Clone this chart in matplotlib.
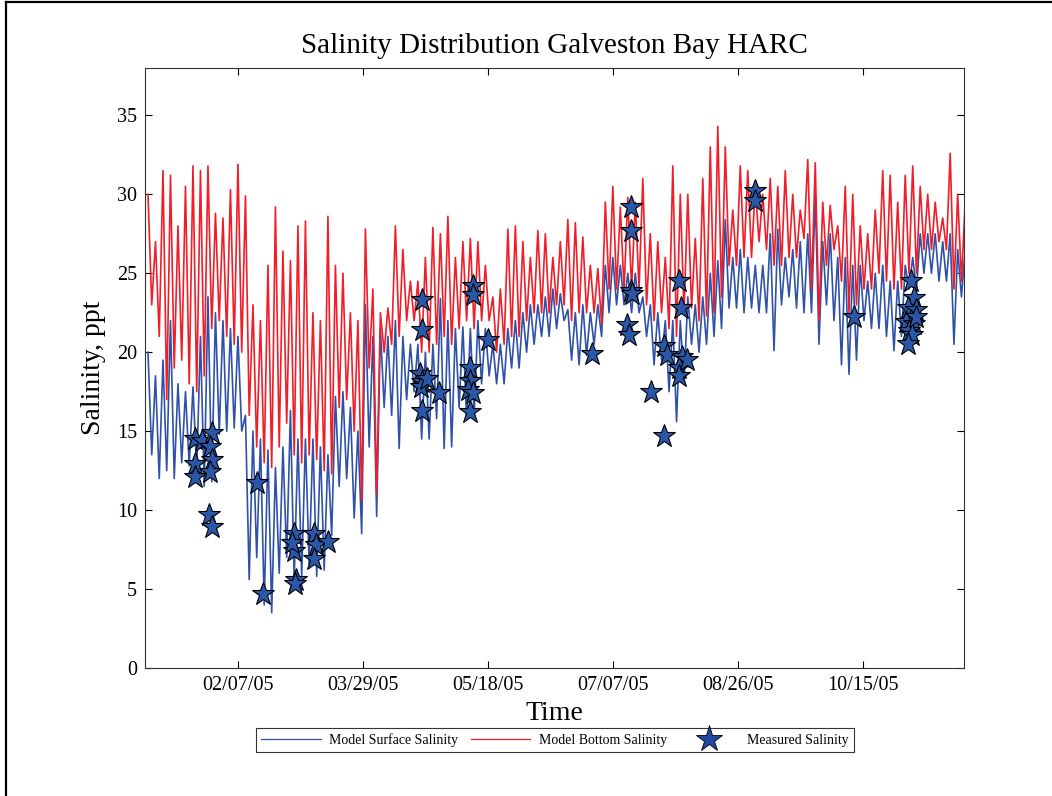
import matplotlib
matplotlib.use("Agg")
import matplotlib.pyplot as plt
import matplotlib.dates as mdates
from matplotlib.lines import Line2D
import numpy as np
import pandas as pd

plt.rcParams["font.family"] = ["Liberation Serif", "DejaVu Serif"]

# model output: tidal peak / trough every 3 days (day offset from 2005-01-01)
model_day = list(range(1, 329, 3))

bottom_hi = [30.0, 27.0, 31.5, 31.2, 28.0, 30.5, 31.8, 31.5, 31.8, 28.8,
             28.5, 30.3, 31.9, 29.9, 23.0, 22.0, 25.5, 29.2, 26.4, 25.8,
             28.0, 28.3, 22.5, 22.0, 28.6, 25.5, 25.0, 22.5, 22.0, 27.8,
             24.0, 22.5, 22.8, 28.0, 26.5, 24.5, 24.5, 26.0, 27.9, 27.5,
             28.6, 26.0, 27.0, 27.2, 27.0, 25.5, 23.5, 24.0, 27.8, 28.0,
             27.0, 26.0, 27.7, 27.5, 26.0, 27.0, 28.4, 28.2, 27.3, 25.5,
             25.3, 29.5, 30.5, 29.2, 29.8, 29.5, 31.0, 27.5, 27.0, 26.0,
             31.8, 30.0, 30.0, 27.2, 31.0, 33.0, 34.3, 33.0, 29.0, 31.8,
             31.5, 30.5, 30.0, 31.0, 30.5, 31.5, 30.0, 29.0, 32.2, 32.0,
             29.5, 29.3, 28.0, 30.5, 30.0, 28.0, 27.5, 29.0, 31.5, 31.2,
             29.5, 31.2, 31.8, 30.5, 30.0, 29.5, 28.5, 32.6, 30.0, 29.5]

bottom_lo = [23.0, 21.0, 17.0, 19.0, 19.5, 18.0, 17.5, 18.5, 21.5, 22.0,
             21.0, 20.5, 20.0, 16.0, 14.0, 13.0, 12.7, 14.0, 15.5, 13.5,
             13.0, 13.5, 13.2, 12.5, 12.3, 16.5, 17.0, 15.0, 10.6, 19.0,
             11.0, 20.0, 20.5, 21.0, 22.0, 22.0, 20.0, 20.0, 20.5, 21.0,
             20.5, 21.5, 22.0, 21.5, 22.0, 22.0, 20.0, 20.5, 21.0, 21.0,
             22.0, 22.5, 22.5, 22.5, 23.0, 23.0, 22.0, 22.5, 22.5, 22.5,
             21.8, 24.0, 24.0, 24.0, 24.0, 24.0, 23.0, 22.0, 22.5, 21.5,
             21.0, 22.5, 22.8, 22.0, 22.3, 22.5, 23.5, 25.5, 25.5, 26.0,
             26.0, 27.0, 26.5, 25.5, 25.5, 26.0, 26.0, 27.2, 24.0, 22.0,
             25.5, 26.5, 24.5, 22.5, 23.0, 24.0, 24.0, 25.0, 24.5, 24.0,
             24.0, 25.0, 25.0, 26.5, 26.5, 27.0, 26.5, 24.0, 24.5, 25.5]

surface_hi = [20.0, 18.5, 19.5, 22.0, 18.0, 17.5, 17.8, 21.0, 23.5, 22.5,
              22.0, 21.5, 21.0, 16.0, 15.0, 14.5, 13.8, 12.7, 14.0, 16.3,
              14.5, 14.5, 14.5, 14.0, 13.5, 17.2, 17.5, 16.5, 15.0, 23.0,
              21.0, 21.5, 21.0, 22.0, 21.0, 20.5, 20.5, 20.0, 20.5, 23.4,
              22.0, 21.5, 21.6, 21.5, 22.0, 21.5, 20.5, 20.5, 21.5, 22.0,
              22.5, 23.0, 23.0, 23.5, 24.0, 23.7, 22.7, 22.5, 23.0, 22.5,
              23.0, 25.5, 26.0, 25.5, 25.0, 25.0, 23.5, 23.0, 22.5, 22.0,
              22.0, 22.0, 23.5, 23.0, 23.5, 25.0, 25.8, 28.4, 26.0, 26.5,
              26.0, 25.5, 25.5, 27.5, 27.8, 26.0, 26.5, 27.0, 27.5, 30.0,
              27.0, 27.5, 26.0, 26.0, 25.5, 25.5, 24.5, 25.0, 25.5, 24.5,
              24.5, 25.5, 26.0, 27.5, 27.5, 27.5, 27.0, 27.5, 26.5, 26.5]

surface_lo = [13.5, 12.0, 12.5, 12.0, 13.0, 12.8, 12.5, 11.5, 11.8, 14.8,
              15.0, 15.2, 15.0, 5.6, 7.0, 4.0, 3.5, 6.0, 7.0, 5.6,
              5.8, 6.5, 5.8, 6.2, 8.4, 11.5, 12.0, 9.5, 8.5, 14.0,
              9.6, 16.5, 16.0, 13.9, 17.0, 17.5, 14.5, 14.5, 15.8, 13.9,
              14.0, 16.5, 15.8, 16.0, 18.0, 18.5, 18.0, 18.0, 19.0, 19.0,
              20.0, 20.5, 21.0, 21.0, 21.5, 22.0, 19.5, 19.2, 19.8, 20.5,
              21.0, 22.5, 23.0, 23.0, 22.5, 22.5, 21.0, 19.2, 19.5, 17.5,
              15.6, 18.0, 20.5, 20.0, 20.5, 21.0, 21.5, 22.8, 22.8, 22.5,
              22.8, 22.5, 22.5, 20.1, 23.0, 23.5, 22.8, 22.5, 22.5, 20.5,
              23.0, 22.0, 19.2, 18.6, 19.5, 22.0, 21.5, 21.5, 21.0, 20.1,
              21.0, 24.0, 24.0, 25.0, 25.0, 24.5, 24.5, 20.5, 23.5, 24.0]

# field measurements (day offset from 2005-01-01, ppt)
meas_day = [19.9, 22.6, 26.6, 25.9, 26.6, 19.9, 25.9, 19.9, 25.3, 26.6,
            44.6, 47.0,
            59.5, 59.5, 60.2, 60.0, 58.8, 67.5, 68.2, 67.5, 72.9,
            110.6, 110.6, 109.9, 110.6, 110.3, 117.4, 110.6, 112.5,
            131.1, 131.1, 137.1, 129.8, 129.8, 129.1, 131.1, 129.8,
            178.7, 194.1, 194.1, 194.1, 194.6, 192.7, 193.4, 202.1, 207.4,
            207.4, 208.7, 213.4, 214.1, 214.7, 213.4, 213.4, 216.6,
            243.7, 243.7, 283.7,
            306.3, 307.7, 305.0, 308.3, 306.3, 304.3, 307.7, 305.7, 306.9, 305.0, 308.5]
meas_sal = [14.5, 14.4, 14.9, 14.0, 13.2, 12.9, 12.4, 12.1, 9.7, 8.9,
            11.7, 4.7,
            8.5, 7.4, 5.6, 5.3, 7.9, 8.5, 7.8, 6.9, 8.0,
            23.3, 21.4, 18.6, 18.1, 17.8, 17.4, 16.3, 18.3,
            24.2, 23.6, 20.8, 19.0, 18.2, 17.6, 17.4, 16.2,
            19.9, 29.2, 27.7, 23.9, 23.7, 21.7, 21.1, 17.5, 14.7,
            20.4, 19.8, 24.5, 22.8, 19.7, 19.0, 18.5, 19.5,
            30.2, 29.6, 22.2,
            24.5, 23.45, 22.8, 22.7, 22.0, 21.9, 21.8, 21.35, 21.1, 20.5, 22.2]

tick_dates = ["2005-02-07", "2005-03-29", "2005-05-18", "2005-07-07", "2005-08-26", "2005-10-15"]

BLUE = "#2f52a8"
RED = "#f01e28"
STAR = "#2a57a8"

start = pd.Timestamp("2005-01-01")


def to_dates(days):
    return start + pd.to_timedelta(np.asarray(days, dtype=float), unit="D")


def zigzag(days, hi, lo):
    days = np.asarray(days, dtype=float)
    t = np.column_stack((days, days + 1.5)).ravel()
    v = np.column_stack((hi, lo)).ravel()
    return to_dates(t), v


fig = plt.figure(figsize=(10.52, 7.96), dpi=100)
ax = fig.add_axes([0.1383, 0.1608, 0.7780, 0.7538])

t_s, v_s = zigzag(model_day, surface_hi, surface_lo)
t_b, v_b = zigzag(model_day, bottom_hi, bottom_lo)
ax.plot(t_s, v_s, color=BLUE, lw=1.2)
ax.plot(t_b, v_b, color=RED, lw=1.2)
ax.plot(to_dates(meas_day), meas_sal, ls="none", marker="*", ms=17,
        mfc=STAR, mec="black", mew=0.8)

ax.set_xlim(pd.Timestamp("2005-01-01"), pd.Timestamp("2005-11-24 12:00"))
ax.set_ylim(0, 38)
ax.set_yticks(range(0, 36, 5))
ax.set_xticks(pd.to_datetime(tick_dates))
ax.xaxis.set_major_formatter(mdates.DateFormatter("%m/%d/%y"))
ax.tick_params(direction="in", top=True, right=True, length=5, width=0.8,
               labelsize=14.5, pad=6)
for s in ax.spines.values():
    s.set_linewidth(0.8)
    s.set_color("#333333")

ax.set_title("Salinity Distribution Galveston Bay HARC", fontsize=21, pad=11)
ax.set_xlabel("Time", fontsize=20, labelpad=4)
ax.set_ylabel("Salinity, ppt", fontsize=20, labelpad=8)

handles = [Line2D([], [], color=BLUE, lw=0.9),
           Line2D([], [], color=RED, lw=0.9),
           Line2D([], [], ls="none", marker="*", ms=20, mfc="#1f4aa0", mec="black", mew=0.6)]
labels = ["Model Surface Salinity", "Model Bottom Salinity", "Measured Salinity"]
leg = fig.legend(handles, labels, loc="center", bbox_to_anchor=(0.5276, 0.0704), ncol=3,
                 fontsize=10, frameon=True, fancybox=False, edgecolor="black",
                 handlelength=4.3, columnspacing=0.9, borderpad=0.35, handletextpad=0.6)
leg.get_frame().set_linewidth(0.8)

# outer frame lines of the original export
fig.add_artist(Line2D([6 / 1052, 6 / 1052], [0, 1 - 2 / 796], color="black", lw=1.6,
                      transform=fig.transFigure))
fig.add_artist(Line2D([6 / 1052, 1], [1 - 2 / 796, 1 - 2 / 796], color="black", lw=1.6,
                      transform=fig.transFigure))

fig.savefig("out.png", dpi=100)
